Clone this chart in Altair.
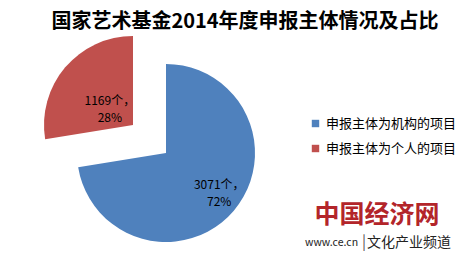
import altair as alt
import pandas as pd

categories = ["申报主体为机构的项目", "申报主体为个人的项目"]
counts = [3071, 1169]
colors = ["#4f81bd", "#c0504d"]
order = [1, 2]

title_text = "国家艺术基金2014年度申报主体情况及占比"
logo_main = "中国经济网"
logo_url = "www.ce.cn"
logo_sub = "文化产业频道"

total = sum(counts)
labels = [f"{c}个，\n{round(c / total * 100)}%" for c in counts]

df = pd.DataFrame({"cat": categories, "value": counts, "ord": order, "label": labels})

FONT = "Noto Sans CJK SC"
base = alt.Chart(df)
color = alt.Color("cat:N", scale=alt.Scale(domain=categories, range=colors),
                  legend=alt.Legend(orient="none", legendX=309, legendY=117, title=None,
                                    symbolType="square", symbolSize=55, labelFontSize=13,
                                    labelFont=FONT, labelColor="#000", rowPadding=11,
                                    symbolStrokeWidth=0, labelLimit=200, labelOffset=4))
theta = alt.Theta("value:Q", stack=True)
ordenc = alt.Order("ord:Q")

def slice_layer(cat, cx, cy, showlegend):
    return base.mark_arc(radius=89, stroke=None).encode(
        theta=theta, order=ordenc,
        color=color if showlegend else alt.Color("cat:N", scale=alt.Scale(domain=categories, range=colors), legend=None),
        opacity=alt.condition(alt.datum.cat == cat, alt.value(1), alt.value(0)),
        x=alt.value(cx), y=alt.value(cy),
    )

def label_layer(cat, cx, cy, r, dx, dy):
    return base.mark_text(radius=r, fontSize=12, font=FONT, color="#000", lineBreak="\n",
                          lineHeight=17, dx=dx, dy=dy, baseline="middle", align="center").encode(
        theta=theta, order=ordenc, text="label:N",
        opacity=alt.condition(alt.datum.cat == cat, alt.value(1), alt.value(0)),
        x=alt.value(cx), y=alt.value(cy),
    )

blue = slice_layer(categories[0], 166, 153, True)
red = slice_layer(categories[1], 133, 125, False)
blue_lbl = label_layer(categories[0], 166, 153, 62, 6, -8)
red_lbl = label_layer(categories[1], 133, 125, 33, 2, -3)

def txt(s, x, y, size, weight="normal", color="#000", align="center"):
    return alt.Chart(pd.DataFrame({"t": [s]})).mark_text(
        fontSize=size, fontWeight=weight, color=color, font=FONT, align=align, baseline="middle"
    ).encode(text="t:N", x=alt.value(x), y=alt.value(y))

title = txt(title_text, 245, 22, 20, "bold")
logo1 = txt(logo_main, 377, 215, 25, "bold", "#b3252a")
logo2 = txt(logo_url, 305, 243, 10.5, "normal", "#222", "left")
logo3 = txt("|", 362, 242, 15, "normal", "#555", "left")
logo4 = txt(logo_sub, 367, 243, 14, "normal", "#222", "left")

chart = alt.layer(blue, red, blue_lbl, red_lbl, title, logo1, logo2, logo3, logo4).properties(
    width=464, height=260, padding=0, autosize="none", background="white"
).configure_view(stroke=None)

chart.save("out.html", embed_options={"renderer": "svg", "actions": False})
